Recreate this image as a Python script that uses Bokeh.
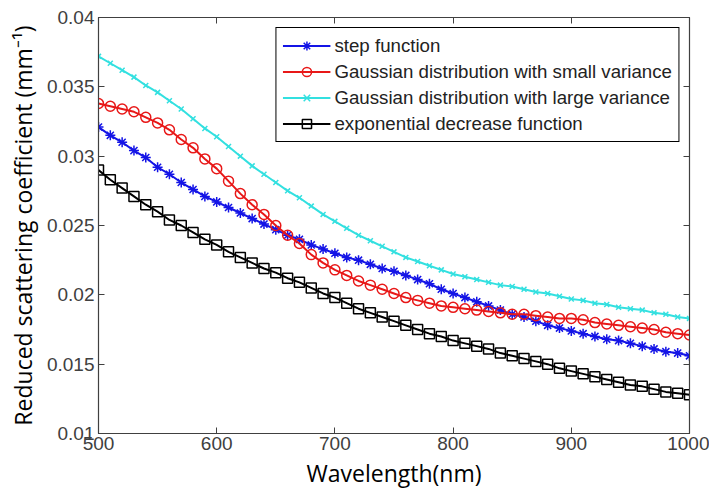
from bokeh.plotting import figure
from bokeh.models import Range1d, FixedTicker, LinearAxis
from bokeh.embed import file_html
from bokeh.resources import INLINE

wavelength = [500, 510, 520, 530, 540, 550, 560, 570, 580, 590,
              600, 610, 620, 630, 640, 650, 660, 670, 680, 690,
              700, 710, 720, 730, 740, 750, 760, 770, 780, 790,
              800, 810, 820, 830, 840, 850, 860, 870, 880, 890,
              900, 910, 920, 930, 940, 950, 960, 970, 980, 990, 1000]

step_function = [0.0321, 0.0315, 0.0310, 0.0304, 0.0299, 0.0292, 0.0287, 0.0281, 0.0276, 0.0271,
                 0.0267, 0.0263, 0.0259, 0.0255, 0.0251, 0.0247, 0.0243, 0.0240, 0.0236, 0.0233,
                 0.0230, 0.0227, 0.0225, 0.0222, 0.0219, 0.0217, 0.0214, 0.0211, 0.0208, 0.0204,
                 0.0201, 0.0198, 0.0195, 0.0192, 0.0189, 0.0186, 0.0184, 0.0181, 0.0178, 0.0176,
                 0.0174, 0.0172, 0.0170, 0.0168, 0.0167, 0.0165, 0.0163, 0.0161, 0.0159, 0.0158, 0.0156]

gauss_small = [0.0338, 0.0336, 0.0334, 0.0332, 0.0328, 0.0324, 0.0319, 0.0312, 0.0306, 0.0298,
               0.0291, 0.0282, 0.0273, 0.0265, 0.0258, 0.0250, 0.0243, 0.0237, 0.0229, 0.0223,
               0.0218, 0.0214, 0.0210, 0.0207, 0.0204, 0.0201, 0.0198, 0.0196, 0.0194, 0.0192,
               0.0191, 0.0190, 0.0189, 0.0188, 0.0187, 0.0186, 0.0186, 0.0185, 0.0184, 0.0183,
               0.0183, 0.0182, 0.0180, 0.0179, 0.0178, 0.0177, 0.0176, 0.0175, 0.0173, 0.0172, 0.0171]

gauss_large = [0.0372, 0.0367, 0.0362, 0.0357, 0.0351, 0.0346, 0.0340, 0.0334, 0.0327, 0.0320,
               0.0314, 0.0307, 0.0300, 0.0293, 0.0287, 0.0281, 0.0275, 0.0270, 0.0264, 0.0258,
               0.0253, 0.0248, 0.0243, 0.0239, 0.0235, 0.0231, 0.0227, 0.0224, 0.0221, 0.0218,
               0.0215, 0.0213, 0.0211, 0.0209, 0.0207, 0.0206, 0.0204, 0.0202, 0.0201, 0.0199,
               0.0197, 0.0196, 0.0194, 0.0193, 0.0191, 0.0190, 0.0189, 0.0187, 0.0186, 0.0184, 0.0183]

exp_decrease = [0.0290, 0.0283, 0.0277, 0.0271, 0.0265, 0.0260, 0.0254, 0.0250, 0.0245, 0.0240,
                0.0236, 0.0231, 0.0227, 0.0223, 0.0219, 0.0216, 0.0212, 0.0209, 0.0205, 0.0201,
                0.0198, 0.0194, 0.0190, 0.0187, 0.0184, 0.0181, 0.0178, 0.0175, 0.0172, 0.0170,
                0.0167, 0.0165, 0.0163, 0.0161, 0.0158, 0.0156, 0.0154, 0.0152, 0.0150, 0.0147,
                0.0145, 0.0143, 0.0141, 0.0139, 0.0137, 0.0135, 0.0134, 0.0132, 0.0130, 0.0129, 0.0128]

series_names = ["step function",
                "Gaussian distribution with small variance",
                "Gaussian distribution with large variance",
                "exponential decrease function"]

x_ticks = [500, 600, 700, 800, 900, 1000]
y_ticks = [0.01, 0.015, 0.02, 0.025, 0.03, 0.035, 0.04]
y_tick_labels = ["0.01", "0.015", "0.02", "0.025", "0.03", "0.035", "0.04"]

p = figure(frame_width=591, frame_height=416,
           min_border_left=98, min_border_right=20, min_border_top=17, min_border_bottom=66,
           x_range=Range1d(500, 1000), y_range=Range1d(0.01, 0.04),
           output_backend="svg", toolbar_location=None,
           x_axis_label="Wavelength(nm)",
           y_axis_label="Reduced scattering coefficient (mm\u207b\u00b9)")

p.grid.visible = False
p.outline_line_color = "#404040"
p.outline_line_width = 1.2
p.background_fill_color = "white"
p.border_fill_color = "white"

for ax in (p.xaxis[0], p.yaxis[0]):
    ax.major_tick_in = 6
    ax.major_tick_out = 0
    ax.minor_tick_in = 0
    ax.minor_tick_out = 0
    ax.axis_line_color = "#404040"
    ax.major_tick_line_color = "#404040"
    ax.major_label_text_font = "Liberation Sans"
    ax.major_label_text_font_size = "19px"
    ax.major_label_text_color = "#404040"
    ax.axis_label_text_font = "Open Sans"
    ax.axis_label_text_font_size = "23px"
    ax.axis_label_text_font_style = "normal"
    ax.axis_label_text_color = "black"

p.xaxis[0].ticker = FixedTicker(ticks=x_ticks)
p.yaxis[0].ticker = FixedTicker(ticks=y_ticks)
p.yaxis[0].major_label_overrides = {t: l for t, l in zip(y_ticks, y_tick_labels)}
p.xaxis[0].major_label_standoff = 3
p.yaxis[0].major_label_standoff = 4
p.xaxis[0].axis_label_standoff = 4
p.yaxis[0].axis_label_standoff = 5

right_axis = LinearAxis(ticker=FixedTicker(ticks=y_ticks),
                        major_label_overrides={t: "" for t in y_ticks},
                        major_tick_in=6, major_tick_out=0, minor_tick_in=0, minor_tick_out=0,
                        axis_line_color="#404040", major_tick_line_color="#404040")
top_axis = LinearAxis(ticker=FixedTicker(ticks=x_ticks),
                      major_label_overrides={t: "" for t in x_ticks},
                      major_tick_in=6, major_tick_out=0, minor_tick_in=0, minor_tick_out=0,
                      axis_line_color="#404040", major_tick_line_color="#404040")
p.add_layout(right_axis, "right")
p.add_layout(top_axis, "above")

styles = [
    (step_function, "#1414e6", "asterisk", 10),
    (gauss_small, "#e81818", "circle", 10),
    (gauss_large, "#33e0e0", "x", 7),
    (exp_decrease, "black", "square", 10),
]

for (vals, color, marker, size), name in zip(styles, series_names):
    p.line(wavelength, vals, line_color=color, line_width=2, legend_label=name)
    p.scatter(wavelength, vals, marker=marker, size=size, line_color=color,
              fill_color=None, line_width=1.5, legend_label=name)

lg = p.legend[0]
lg.location = "top_right"
lg.margin = 10
lg.border_line_color = "black"
lg.border_line_width = 1
lg.border_line_alpha = 1
lg.background_fill_color = "white"
lg.background_fill_alpha = 1
lg.label_text_font = "Liberation Sans"
lg.label_text_font_size = "18.7px"
lg.label_text_color = "#222222"
lg.glyph_width = 48
lg.glyph_height = 23
lg.label_height = 23
lg.label_standoff = 4
lg.spacing = 3
lg.padding = 6

open("out.html", "w").write(file_html(p, INLINE))
